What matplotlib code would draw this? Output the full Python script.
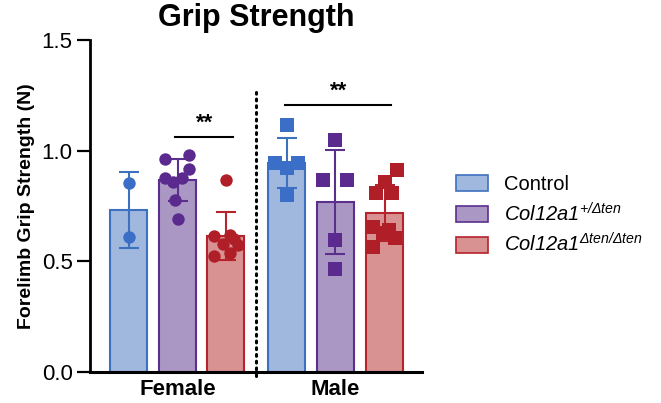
import numpy as np
import matplotlib.pyplot as plt
from matplotlib.patches import Patch

plt.rcParams['font.family'] = ['Liberation Sans', 'DejaVu Sans']
plt.rcParams['mathtext.fontset'] = 'custom'
plt.rcParams['mathtext.rm'] = 'Liberation Sans:italic'
plt.rcParams['mathtext.it'] = 'Liberation Sans:italic'

# Data
groups = ['Female', 'Male']
genotypes = ['Control', r'$Col12a1^{+/Δten}$', r'$Col12a1^{Δten/Δten}$']

female_ctrl = [0.853, 0.61]
female_het = [0.96, 0.979, 0.916, 0.874, 0.858, 0.874, 0.776, 0.689]
female_hom = [0.866, 0.62, 0.613, 0.60, 0.577, 0.573, 0.523, 0.537]
male_ctrl = [1.114, 0.943, 0.943, 0.92, 0.80]
male_het = [1.046, 0.866, 0.866, 0.595, 0.465]
male_hom = [0.911, 0.858, 0.807, 0.807, 0.655, 0.64, 0.627, 0.604, 0.565]

# styling
fills = ['#a0b8de', '#ab97c4', '#d99292']
edges = ['#3e70c0', '#5b2f8c', '#b5232c']
dots = ['#3b6ec6', '#5a2a8e', '#b01f28']

# horizontal layout (bar centres and point jitter)
centers = [[0.0, 1.0, 1.99], [3.23, 4.22, 5.23]]
jitter = {
    (0, 0): [0, 0],
    (0, 1): [-0.255, 0.24, 0.24, -0.255, -0.086, 0.086, -0.05, 0],
    (0, 2): [0, 0.08, -0.245, 0.16, -0.07, 0.245, -0.245, 0.08],
    (1, 0): [0, -0.235, 0.235, 0, 0],
    (1, 1): [0, -0.245, 0.245, 0, 0],
    (1, 2): [0.25, 0, -0.17, 0.15, -0.23, 0.1, -0.03, 0.21, -0.23],
}
data = [[female_ctrl, female_het, female_hom], [male_ctrl, male_het, male_hom]]
markers = ['o', 's']

fig = plt.figure(figsize=(6.61, 4.03), dpi=100)
ax = fig.add_axes([0.136, 0.077, 0.502, 0.824])

width = 0.755
for g in range(2):
    for k in range(3):
        vals = np.array(data[g][k])
        x = centers[g][k]
        m = vals.mean()
        sd = vals.std(ddof=1)
        ax.bar(x, m, width, color=fills[k], edgecolor=edges[k], linewidth=1.5, zorder=2)
        ax.errorbar(x, m, yerr=sd, color=edges[k], elinewidth=1.5, capsize=7,
                    capthick=1.5, zorder=3)
        xs = x + np.array(jitter[(g, k)])
        ax.scatter(xs, vals, s=80 if g == 0 else 95, marker=markers[g],
                   color=dots[k], linewidths=0, zorder=4)

# divider
ax.plot([2.6, 2.6], [-0.02, 1.265], color='black', linestyle=(0, (0.6, 1.6)),
        linewidth=2.2, dash_capstyle='round', clip_on=False, zorder=5)

# significance
ax.plot([0.95, 2.14], [1.06, 1.06], color='black', lw=1.5, clip_on=False)
ax.text(1.545, 1.075, '**', ha='center', va='bottom', fontsize=16, fontweight='bold')
ax.plot([3.2, 5.37], [1.205, 1.205], color='black', lw=1.5, clip_on=False)
ax.text(4.285, 1.22, '**', ha='center', va='bottom', fontsize=16, fontweight='bold')

ax.set_xlim(-0.79, 5.99)
ax.set_ylim(0, 1.5)
ax.set_yticks([0.0, 0.5, 1.0, 1.5])
ax.set_yticklabels(['0.0', '0.5', '1.0', '1.5'], fontsize=16)
ax.set_xticks([np.mean(c) for c in centers])
ax.set_xticklabels(groups, fontsize=16, fontweight='bold')
ax.tick_params(axis='x', length=0, pad=5)
ax.tick_params(axis='y', length=9.5, width=1.6, pad=3)
ax.spines['top'].set_visible(False)
ax.spines['right'].set_visible(False)
ax.spines['left'].set_linewidth(2)
ax.spines['bottom'].set_linewidth(2.2)
ax.set_ylabel('Forelimb Grip Strength (N)', fontsize=14, fontweight='bold', labelpad=5)
ax.set_title('Grip Strength', fontsize=22, fontweight='bold', pad=10, x=0.5)

handles = [Patch(facecolor=fills[k], edgecolor=edges[k], linewidth=1.2) for k in range(3)]
fig.legend(handles, genotypes, loc='center left', bbox_to_anchor=(0.69, 0.465),
           frameon=False, fontsize=14.5, handlelength=1.6, handleheight=0.85,
           labelspacing=0.38, handletextpad=0.8, borderpad=0, borderaxespad=0)

fig.savefig('out.png', dpi=100)
